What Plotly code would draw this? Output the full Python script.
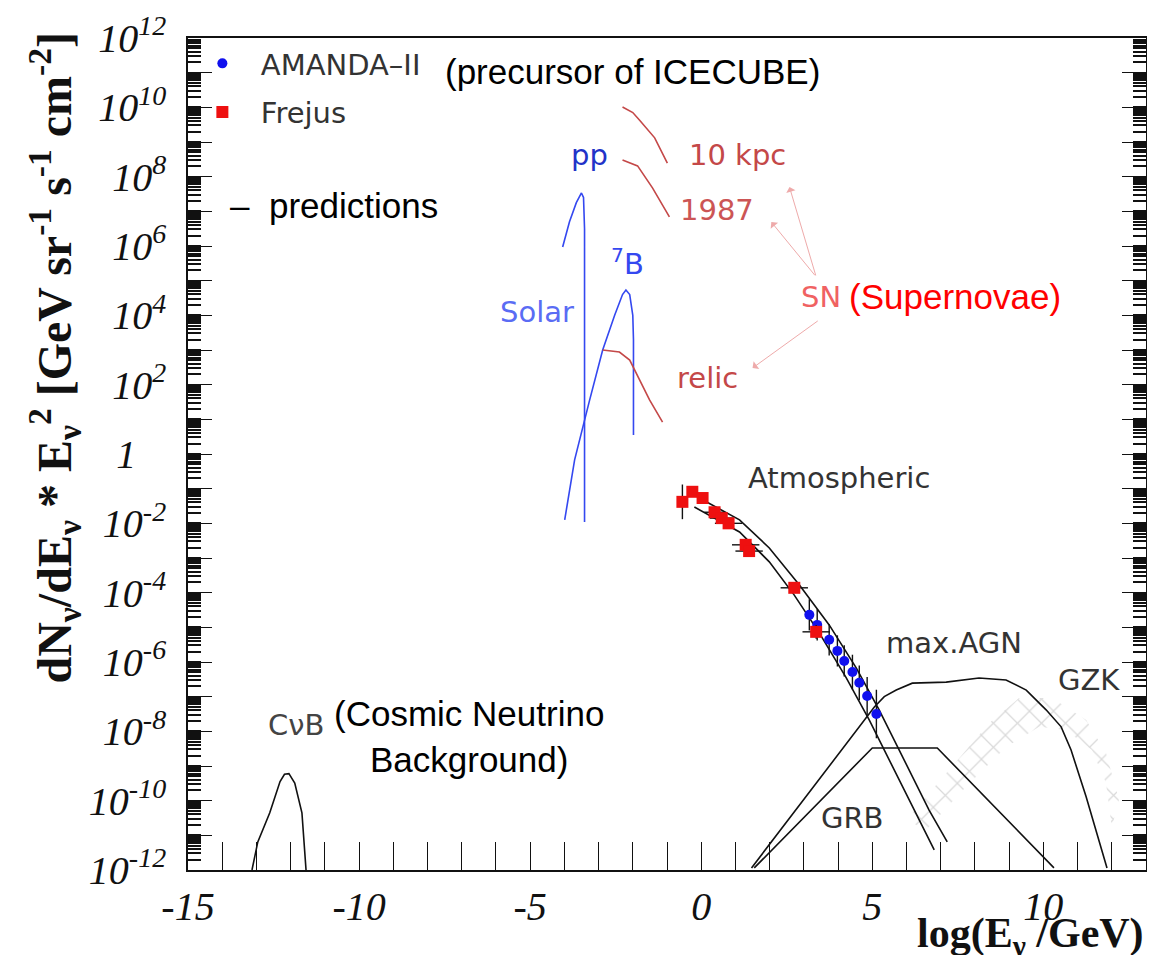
import numpy as np
import plotly.graph_objects as go

# ---------------- data (x = log10(E/GeV), y = log10 of flux) ----------------
cnb_x = [-13.13, -12.96, -12.61, -12.31, -12.18, -12.05, -11.88, -11.67, -11.55]
cnb_logy = [-12.0, -11.19, -10.35, -9.45, -9.24, -9.22, -9.49, -10.35, -12.0]

pp_x = [-4.05, -3.85, -3.65, -3.5, -3.44, -3.41, -3.41]
pp_logy = [5.97, 6.7, 7.25, 7.53, 7.4, 6.5, -1.96]

b7_x = [-3.99, -3.7, -3.26, -2.88, -2.53, -2.3, -2.2, -2.09, -2.0, -1.98, -1.98]
b7_logy = [-1.9, -0.17, 1.56, 3.0, 4.0, 4.6, 4.73, 4.6, 4.0, 3.3, 0.55]

relic_x = [-2.88, -2.39, -2.09, -1.80, -1.51, -1.13]
relic_logy = [3.0, 2.94, 2.71, 2.14, 1.56, 0.92]

sn10_x = [-2.30, -2.0, -1.80, -1.36, -0.99]
sn10_logy = [10.01, 9.85, 9.63, 9.12, 8.39]

sn87_x = [-2.30, -1.86, -1.42, -0.93]
sn87_logy = [8.48, 8.31, 7.67, 6.84]

atm_hi_x = [-0.11, 1.12, 1.99, 2.87, 3.74, 4.53, 5.20, 5.93, 6.66, 7.19]
atm_hi_logy = [-1.24, -1.90, -2.71, -3.78, -4.93, -6.17, -7.38, -8.83, -10.27, -11.19]
atm_lo_x = [-0.20, 1.12, 1.99, 2.72, 3.45, 4.24, 4.91, 5.64, 6.31, 6.81]
atm_lo_logy = [-1.53, -2.25, -3.11, -4.07, -5.16, -6.46, -7.67, -9.11, -10.41, -11.42]

frejus_x = [-0.55, -0.26, 0.04, 0.39, 0.6, 0.8, 1.3, 1.4, 2.72, 3.36]
frejus_logy = [-1.38, -1.09, -1.27, -1.68, -1.85, -2.0, -2.62, -2.8, -3.86, -5.13]
frejus_xerr = [0.0, 0.0, 0.0, 0.3, 0.35, 0.4, 0.4, 0.4, 0.4, 0.4]
frejus_logerr = [0.5, 0.1, 0.1, 0.1, 0.1, 0.1, 0.15, 0.15, 0.15, 0.2]

amanda_x = [3.16, 3.39, 3.74, 3.98, 4.18, 4.42, 4.62, 4.85, 5.12]
amanda_logy = [-4.64, -4.93, -5.36, -5.68, -5.97, -6.29, -6.60, -6.98, -7.50]
amanda_logerr = [0.45, 0.45, 0.45, 0.45, 0.45, 0.5, 0.5, 0.55, 0.7]

agn_x = [1.47, 4.83, 5.06, 5.35, 5.70, 6.17, 7.16, 8.12, 8.91, 9.50, 10.08, 10.52, 10.81, 11.25, 11.63, 11.86]
agn_logy = [-11.94, -7.58, -7.30, -7.0, -6.81, -6.61, -6.58, -6.46, -6.52, -6.81, -7.38, -7.87, -8.54, -9.89, -11.13, -11.94]

grb_x = [1.55, 5.0, 6.9, 10.31]
grb_logy = [-11.94, -8.48, -8.48, -11.94]

gzk_x = [5.99, 7.16, 8.42, 9.29, 10.26, 11.25, 11.83, 12.21,
         12.0, 11.83, 11.42, 10.66, 9.88, 8.91, 7.74, 6.58, 5.99]
gzk_logy = [-10.56, -9.2, -7.76, -7.04, -7.04, -7.67, -8.62, -9.98,
            -10.76, -9.49, -8.54, -7.96, -7.87, -8.45, -9.6, -10.84, -10.56]

x_ticks = list(range(-15, 14))
x_labels = [str(v) if v % 5 == 0 else "" for v in x_ticks]
y_decades = list(range(-12, 13))


def ylab(k):
    if k % 2:
        return ""
    if k == 0:
        return "1\u00a0\u00a0\u00a0"
    return "10<sup>%d</sup>" % k


y_labels = [ylab(k) for k in y_decades]


def lin(v):
    return list(10 ** np.asarray(v, dtype=float))


def logerr(logy, err):
    y = 10 ** np.asarray(logy, dtype=float)
    e = np.asarray(err, dtype=float)
    return list(y * (10 ** e - 1)), list(y * (1 - 10 ** (-e)))


fig = go.Figure()

BLACK = "#111111"
BLUE = "#3448f0"
LBLUE = "#5a6cf4"
RED = "#c44848"


def line(x, ly, color, width=1.6):
    fig.add_trace(go.Scatter(x=x, y=lin(ly), mode="lines", showlegend=False,
                             line=dict(color=color, width=width), hoverinfo="skip"))


# GZK hatched band
fig.add_trace(go.Scatter(x=gzk_x, y=lin(gzk_logy), mode="lines", fill="toself",
                         fillcolor="rgba(255,255,255,0)", showlegend=False,
                         line=dict(width=0, color="rgba(0,0,0,0)"),
                         fillpattern=dict(shape="x", fgcolor="#b4b4b4", bgcolor="rgba(255,255,255,0)",
                                          size=17, solidity=0.14), hoverinfo="skip"))

line(cnb_x, cnb_logy, BLACK)
line(pp_x, pp_logy, BLUE)
line(b7_x, b7_logy, BLUE)
line(relic_x, relic_logy, RED)
line(sn10_x, sn10_logy, RED)
line(sn87_x, sn87_logy, RED)
line(atm_hi_x, atm_hi_logy, BLACK)
line(atm_lo_x, atm_lo_logy, BLACK)
line(agn_x, agn_logy, BLACK)
line(grb_x, grb_logy, BLACK)

fe_p, fe_m = logerr(frejus_logy, frejus_logerr)
am_p, am_m = logerr(amanda_logy, amanda_logerr)

fig.add_trace(go.Scatter(x=amanda_x, y=lin(amanda_logy), mode="markers",
                         name="\u00a0\u00a0AMANDA\u2013II", legendgroup="a",
                         marker=dict(symbol="circle", size=10, color="#1010ee"),
                         error_y=dict(type="data", symmetric=False, array=am_p, arrayminus=am_m,
                                      color=BLACK, thickness=1.4, width=0)))
fig.add_trace(go.Scatter(x=frejus_x, y=lin(frejus_logy), mode="markers",
                         name="\u00a0\u00a0Frejus", legendgroup="f",
                         marker=dict(symbol="square", size=12, color="#ee1010"),
                         error_y=dict(type="data", symmetric=False, array=fe_p, arrayminus=fe_m,
                                      color=BLACK, thickness=1.4, width=0),
                         error_x=dict(type="data", array=frejus_xerr, color=BLACK,
                                      thickness=1.4, width=0)))

ROOTF = "DejaVu Sans"
ARIAL = "Liberation Sans"
ann = []


def txt(x, y, s, size=29, color="#333333", family=ROOTF, xanchor="center", align="center"):
    ann.append(dict(x=x, y=y, xref="x", yref="y", text=s, showarrow=False,
                    xanchor=xanchor, yanchor="middle", align=align,
                    font=dict(family=family, size=size, color=color)))


txt(-3.26, 8.63, "pp", color="#2233c8")
txt(-2.15, 5.54, "<sup>7</sup>B", color=BLUE)
txt(-4.81, 4.10, "Solar", color=LBLUE)
txt(1.06, 8.63, "10 kpc", color=RED)
txt(0.47, 7.04, "1987", color="#cc5555")
txt(3.51, 4.53, "SN", color="#f06262")
txt(4.27, 4.53, "(Supernovae)", size=35, color="#ff0000", family=ARIAL, xanchor="left")
txt(0.18, 2.19, "relic", color=RED)
txt(4.04, -0.69, "Atmospheric")
txt(7.39, -5.45, "max.AGN")
txt(11.34, -6.52, "GZK")
txt(4.42, -10.5, "GRB")
txt(-11.85, -7.82, "C\u03bdB", color="#444444")
txt(-6.80, -8.16, "(Cosmic Neutrino<br>Background)", size=35, color="#000000", family=ARIAL)
txt(-7.56, 11.02, "(precursor of ICECUBE)", size=35, color="#000000", family=ARIAL, xanchor="left")
txt(-13.83, 7.18, "\u2013  predictions", size=35, color="#000000", family=ARIAL, xanchor="left")

# SN arrows
sn_tip_x = [2.58, 2.05, 1.50]
sn_tip_logy = [7.70, 6.69, 2.48]
sn_tail_x = [3.36, 3.36, 3.45]
sn_tail_logy = [5.11, 5.11, 3.87]
for tx, ty, sx, sy in zip(sn_tip_x, sn_tip_logy, sn_tail_x, sn_tail_logy):
    ann.append(dict(x=tx, y=ty, ax=sx, ay=sy, xref="x", yref="y", axref="x", ayref="y",
                    text="", showarrow=True, arrowhead=1, arrowsize=1.6, arrowwidth=1,
                    arrowcolor="rgba(235,150,150,0.8)"))

# axis titles
ann.append(dict(x=-0.139, y=1.010, xref="paper", yref="paper", xanchor="center", yanchor="top",
                textangle=-90, showarrow=False,
                text="dN<sub>\u03bd</sub>/dE<sub>\u03bd</sub> * E<sub>\u03bd</sub><sup>2</sup> "
                     "[GeV sr<sup>-1</sup> s<sup>-1</sup> cm<sup>-2</sup>]",
                font=dict(family="Liberation Serif", size=48, color="#111111", weight="bold")))
ann.append(dict(x=1.0, y=-0.113, xref="paper", yref="paper", xanchor="right", yanchor="bottom",
                showarrow=False, text="log(E<sub>\u03bd</sub> /GeV)",
                font=dict(family="Liberation Serif", size=42, color="#111111", weight="bold")))

# page body has an 8 px margin: figure is 1139x947 so the plot frame lands at 188..1147 / 38..870
fig.update_layout(
    width=1139, height=947,
    margin=dict(l=180, r=1, t=30, b=85, autoexpand=False),
    paper_bgcolor="white", plot_bgcolor="white",
    annotations=ann,
    showlegend=True,
    legend=dict(x=0.015, y=1.0, xanchor="left", yanchor="top", bgcolor="rgba(0,0,0,0)",
                font=dict(family=ROOTF, size=29, color="#333333"),
                traceorder="grouped", tracegroupgap=8, itemwidth=30),
    xaxis=dict(range=[-15, 13], tickmode="array", tickvals=x_ticks, ticktext=x_labels,
               ticks="inside", ticklen=28, tickwidth=1.3, tickcolor=BLACK, automargin=False,
               showline=True, linewidth=1.6, linecolor=BLACK, mirror=True,
               showgrid=False, zeroline=False,
               tickfont=dict(family="Liberation Serif", size=40, color="#111111", style="italic")),
    yaxis=dict(type="log", range=[-12, 12], tickmode="array", automargin=False,
               tickvals=[10.0 ** k for k in y_decades], ticktext=y_labels,
               ticks="inside", ticklen=24, tickwidth=1.3, tickcolor=BLACK,
               ticklabelstandoff=12,
               minor=dict(ticks="inside", ticklen=13, tickwidth=1.6, tickcolor=BLACK, dtick="D1"),
               showline=True, linewidth=1.6, linecolor=BLACK, mirror="allticks",
               showgrid=False, zeroline=False,
               tickfont=dict(family="Liberation Serif", size=40, color="#111111", style="italic")),
)

fig.write_html("out.html")
